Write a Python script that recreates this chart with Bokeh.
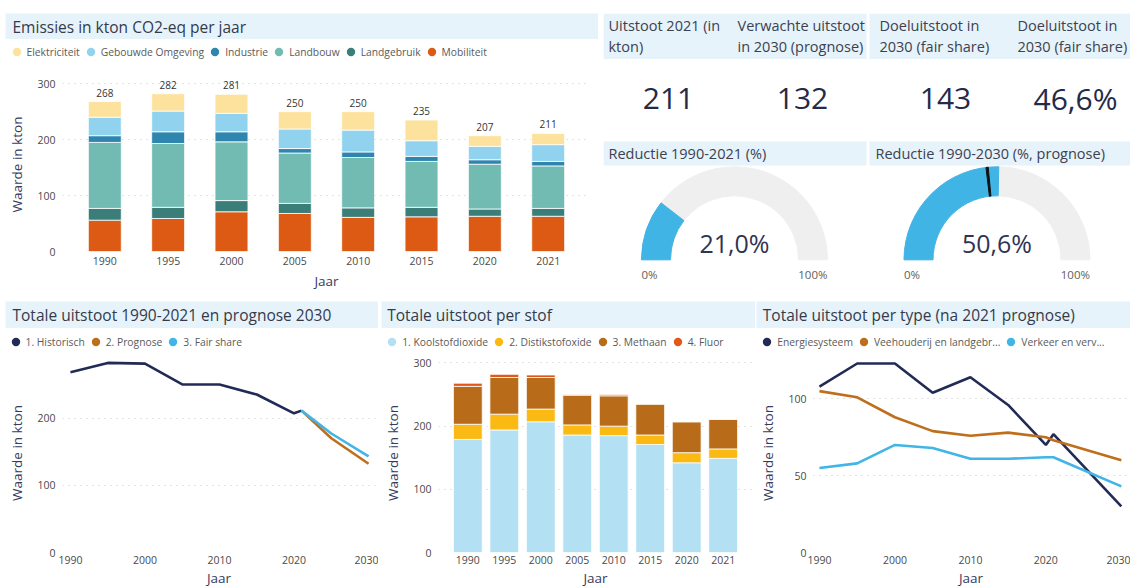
import math
from bokeh.plotting import figure
from bokeh.layouts import column, row
from bokeh.models import (Range1d, FactorRange, FixedTicker, Legend, LegendItem,
                          Spacer, ColumnDataSource)
from bokeh.core.properties import value
from bokeh.embed import file_html
from bokeh.resources import INLINE

FONT = "Open Sans"
BAND = "#E6F3FA"
TITLE_C = "#343A4A"
AXIS_TITLE_C = "#363C5E"
TICK_C = "#4A4A4A"
LEG_C = "#5A5A5A"
GRID_C = "#C6C6C6"

# ---------------- data ----------------
years = ["1990", "1995", "2000", "2005", "2010", "2015", "2020", "2021"]

# Emissies per sector (kton CO2-eq)
elektriciteit     = [28, 31, 34, 31, 33, 37, 19, 20]
gebouwde_omgeving = [33, 37, 33, 35, 39, 28, 24, 30]
industrie         = [12, 21, 18, 8, 10, 9, 8, 8]
landbouw          = [118, 114, 105, 90, 90, 82, 80, 76]
landgebruik       = [21, 20, 20, 18, 17, 17, 13, 14]
mobiliteit        = [56, 59, 71, 68, 61, 62, 63, 63]
sector_names = ["Elektriciteit", "Gebouwde Omgeving", "Industrie", "Landbouw",
                "Landgebruik", "Mobiliteit"]
sector_keys = ["elek", "geb", "ind", "landb", "landg", "mob"]
sector_colors = ["#FDE29D", "#91D3EF", "#2E86AF", "#71BBB3", "#3B7D78", "#DC5A13"]

# Totale uitstoot per stof
koolstofdioxide  = [179, 194, 207, 186, 185, 171, 142, 149]
distikstofoxide  = [24, 25, 20, 16, 15, 15, 16, 15]
methaan          = [60, 58, 50, 47, 48, 49, 49, 47]
fluor            = [5, 5, 4, 1, 2, 0, 0, 0]
stof_names = ["1. Koolstofdioxide", "2. Distikstofoxide", "3. Methaan", "4. Fluor"]
stof_keys = ["co2", "n2o", "ch4", "f"]
stof_colors = ["#B3E1F3", "#FBB913", "#B86C19", "#E2571A"]

# Totale uitstoot 1990-2021 en prognose 2030
hist_years = [1990, 1995, 2000, 2005, 2010, 2015, 2020, 2021]
hist_vals  = [268, 282, 281, 250, 250, 235, 207, 211]
prog_years = [2021, 2025, 2030]
prog_vals  = [211, 170, 132]
fair_years = [2021, 2025, 2030]
fair_vals  = [211, 177, 143]
total_names = ["1. Historisch", "2. Prognose", "3. Fair share"]
NAVY, ORANGE, LBLUE = "#222B56", "#BF6E1B", "#41B5E6"

# Totale uitstoot per type
type_years  = [1990, 1995, 2000, 2005, 2010, 2015, 2020, 2021, 2030]
energie     = [108, 123, 123, 104, 114, 96, 70, 77, 30]
veehouderij = [105, 101, 88, 79, 76, 78, 75, 73, 60]
verkeer     = [55, 58, 70, 68, 61, 61, 62, 62, 43]
type_names = ["Energiesysteem", "Veehouderij en landgebr...", "Verkeer en verv..."]

# KPI's
uitstoot_2021 = 211
verwacht_2030 = 132
doel_2030 = 143
doel_pct = 46.6
reductie_2021 = 21.0
reductie_2030 = 50.6


def pct(v):
    return f"{v:.1f}".replace(".", ",") + "%"


# ---------------- helpers ----------------
def blank(width, height, xr, yr, bg="white"):
    p = figure(width=width, height=height, x_range=xr, y_range=yr,
               x_axis_type=None, y_axis_type=None, toolbar_location=None,
               output_backend="svg", min_border=0, outline_line_color=None,
               background_fill_color=bg, border_fill_color=bg, frame_align=False)
    p.grid.visible = False
    return p


def band(width, height, text, tx):
    p = blank(width, height, Range1d(0, width), Range1d(0, height), BAND)
    p.text(x=[tx], y=[height / 2], text=[text], text_align="left",
           text_baseline="middle", text_font=value(FONT), text_font_size="15.5px",
           text_color=TITLE_C)
    return p


def legend_strip(width, height, labels, colors, series, lx, ly):
    """series: list of (xs, ys) of the plotted data; markers drawn at size 0,
    only the legend keys are visible."""
    p = blank(width, height, Range1d(0, 1), Range1d(0, 1))
    items = []
    for lab, col, (xs, ys) in zip(labels, colors, series):
        r = p.scatter(xs, ys, marker="circle", size=0, fill_color=col, line_color=None)
        items.append(LegendItem(label=value(lab), renderers=[r]))
    leg = Legend(items=items, orientation="horizontal", location=(lx, ly),
                 margin=0, padding=0, spacing=0, glyph_width=21, glyph_height=25,
                 label_standoff=-3, label_height=14, label_text_font=FONT,
                 label_text_font_size="10.3px", label_text_color=LEG_C,
                 background_fill_alpha=0, border_line_alpha=0)
    p.add_layout(leg)
    return p


def style(p, yticks, xticks=None, xl_standoff=3, xa_standoff=2):
    p.yaxis.ticker = FixedTicker(ticks=yticks)
    if xticks is not None:
        p.xaxis.ticker = FixedTicker(ticks=xticks)
    for ax in p.axis:
        ax.axis_line_color = None
        ax.major_tick_line_color = None
        ax.minor_tick_line_color = None
        ax.major_tick_out = 0
        ax.major_tick_in = 0
        ax.minor_tick_out = 0
        ax.minor_tick_in = 0
        ax.major_label_text_font = FONT
        ax.major_label_text_font_size = "10.5px"
        ax.major_label_text_color = TICK_C
        ax.axis_label_text_font = FONT
        ax.axis_label_text_font_size = "13.5px"
        ax.axis_label_text_font_style = "normal"
        ax.axis_label_text_color = AXIS_TITLE_C
    p.xaxis.axis_label = "Jaar"
    p.yaxis.axis_label = "Waarde in kton"
    p.xaxis.major_label_standoff = xl_standoff
    p.xaxis.axis_label_standoff = xa_standoff
    p.yaxis.major_label_standoff = 7
    p.yaxis.axis_label_standoff = 8
    p.xgrid.grid_line_color = None
    p.ygrid.grid_line_color = GRID_C
    p.ygrid.grid_line_dash = "1 5"
    p.ygrid.grid_line_width = 1.2


def chart(width, height, xr, yr, L, R, T, B):
    return figure(width=width, height=height, x_range=xr, y_range=yr,
                  toolbar_location=None, output_backend="svg",
                  min_border_left=L, min_border_right=R, min_border_top=T,
                  min_border_bottom=B, outline_line_color=None, frame_align=False)


year_nums = [int(y) for y in years]

# ---------------- top-left: stacked sectors ----------------
A_W = 593
srcA = ColumnDataSource(dict(year=years, elek=elektriciteit, geb=gebouwde_omgeving,
                             ind=industrie, landb=landbouw, landg=landgebruik,
                             mob=mobiliteit))
pA = chart(A_W, 229, FactorRange(factors=years, range_padding=0.042), Range1d(0, 311),
           55, 8, 13, 42)
pA.vbar_stack(sector_keys[::-1], x="year", width=0.52, color=sector_colors[::-1],
              line_color="white", line_width=0.8, source=srcA)
totalsA = [sum(v) for v in zip(elektriciteit, gebouwde_omgeving, industrie,
                               landbouw, landgebruik, mobiliteit)]
pA.text(x=years, y=totalsA, text=[str(t) for t in totalsA], text_align="center",
        text_baseline="bottom", y_offset=-5, text_font=value(FONT),
        text_font_size="10px", text_color="#333333")
style(pA, [0, 100, 200, 300], xl_standoff=5, xa_standoff=4)
sector_series = [(year_nums, v) for v in [elektriciteit, gebouwde_omgeving, industrie,
                                          landbouw, landgebruik, mobiliteit]]
panelA = column(band(A_W, 26, "Emissies in kton CO2-eq per jaar", 7),
                legend_strip(A_W, 25, sector_names, sector_colors, sector_series, 0.5, 0),
                pA)

# ---------------- top-right: KPI cards & gauges ----------------
def Y(r):
    return 292 - r

pK = blank(527, 279, Range1d(603, 1130), Range1d(0, 279))
pK.quad(left=[603, 869, 603, 869], right=[866, 1130, 866, 1130],
        top=[Y(13), Y(13), Y(141), Y(141)], bottom=[Y(58.5), Y(58.5), Y(165), Y(165)],
        fill_color=BAND, line_color=None)

hdr_x = [608, 608, 737, 737, 879, 879, 1017, 1017]
hdr_y = [Y(25), Y(46)] * 4
hdr_t = ["Uitstoot 2021 (in", "kton)", "Verwachte uitstoot", "in 2030 (prognose)",
         "Doeluitstoot in", "2030 (fair share)", "Doeluitstoot in", "2030 (fair share)"]
pK.text(x=hdr_x, y=hdr_y, text=hdr_t, text_align="left", text_baseline="middle",
        text_font=value(FONT), text_font_size="14.5px", text_color="#3C4150")

kpi_text = [str(uitstoot_2021), str(verwacht_2030), str(doel_2030), pct(doel_pct)]
pK.text(x=[668, 802, 945, 1075], y=[Y(98)] * 4, text=kpi_text, text_align="center",
        text_baseline="middle", text_font=value(FONT), text_font_size="30px",
        text_color="#252A48")

pK.text(x=[608, 875], y=[Y(153)] * 2,
        text=["Reductie 1990-2021 (%)", "Reductie 1990-2030 (%, prognose)"],
        text_align="left", text_baseline="middle", text_font=value(FONT),
        text_font_size="14.5px", text_color="#3C4150")

gx = [734, 996.5]
gy = [Y(259.3)] * 2
R_OUT, R_IN = 93, 64
gauge_vals = [reductie_2021, reductie_2030]
pK.annular_wedge(x=gx, y=gy, inner_radius=R_IN, outer_radius=R_OUT,
                 start_angle=0, end_angle=math.pi, color="#EFEFEF")
pK.annular_wedge(x=gx, y=gy, inner_radius=R_IN, outer_radius=R_OUT,
                 start_angle=[math.pi * (1 - v / 100) for v in gauge_vals],
                 end_angle=math.pi, color="#41B4E6")
tgt = math.pi * (1 - doel_pct / 100)
pK.annular_wedge(x=[gx[1]], y=[gy[1]], inner_radius=R_IN, outer_radius=R_OUT,
                 start_angle=tgt - 0.012, end_angle=tgt + 0.012, color="#111111")
pK.text(x=gx, y=[Y(242.7)] * 2, text=[pct(v) for v in gauge_vals],
        text_align="center", text_baseline="middle", text_font=value(FONT),
        text_font_size="25px", text_color="#2F3452")
pK.text(x=[c - R_OUT for c in gx], y=[Y(274)] * 2, text=["0%", "0%"],
        text_align="left", text_baseline="middle", text_font=value(FONT),
        text_font_size="11.5px", text_color="#605E5C")
pK.text(x=[c + R_OUT for c in gx], y=[Y(274)] * 2, text=["100%", "100%"],
        text_align="right", text_baseline="middle", text_font=value(FONT),
        text_font_size="11.5px", text_color="#605E5C")

top_row = row(Spacer(width=5, height=279), panelA, Spacer(width=5, height=279), pK)

# ---------------- bottom row ----------------
B_H, B_T, B_B = 236, 0, 37

# bottom-left: totals line
p1 = chart(373, B_H, Range1d(1988.93, 2030.93), Range1d(0, 296), 55, 3, B_T, B_B)
p1.line(hist_years, hist_vals, line_width=2.6, color=NAVY)
p1.line(prog_years, prog_vals, line_width=2.6, color=ORANGE)
p1.line(fair_years, fair_vals, line_width=2.6, color=LBLUE)
style(p1, [0, 100, 200], [1990, 2000, 2010, 2020, 2030])
series1 = [(hist_years, hist_vals), (prog_years, prog_vals), (fair_years, fair_vals)]
panel1 = column(band(373, 27, "Totale uitstoot 1990-2021 en prognose 2030", 7),
                legend_strip(373, 25, total_names, [NAVY, ORANGE, LBLUE], series1, -0.5, -1),
                p1)

# bottom-middle: per stof
src2 = ColumnDataSource(dict(year=years, co2=koolstofdioxide, n2o=distikstofoxide,
                             ch4=methaan, f=fluor))
p2 = chart(374, B_H, FactorRange(factors=years, range_padding=0.076), Range1d(0, 315),
           55, 3, B_T, B_B)
p2.vbar_stack(stof_keys, x="year", width=0.79, color=stof_colors,
              line_color="white", line_width=0.8, source=src2)
style(p2, [0, 100, 200, 300])
series2 = [(year_nums, v) for v in [koolstofdioxide, distikstofoxide, methaan, fluor]]
panel2 = column(band(374, 27, "Totale uitstoot per stof", 5.7),
                legend_strip(374, 25, stof_names, stof_colors, series2, 0.2, -1),
                p2)

# bottom-right: per type
p3 = chart(374, B_H, Range1d(1989.21, 2030.95), Range1d(0, 129.5), 56, 2, B_T, B_B)
p3.line(type_years, energie, line_width=2.6, color=NAVY)
p3.line(type_years, veehouderij, line_width=2.6, color=ORANGE)
p3.line(type_years, verkeer, line_width=2.6, color=LBLUE)
style(p3, [0, 50, 100], [1990, 2000, 2010, 2020, 2030])
series3 = [(type_years, v) for v in [energie, veehouderij, verkeer]]
panel3 = column(band(374, 27, "Totale uitstoot per type (na 2021 prognose)", 6.3),
                legend_strip(374, 25, type_names, [NAVY, ORANGE, LBLUE], series3, 0.2, -1),
                p3)

bottom_row = row(Spacer(width=5, height=288), panel1, Spacer(width=3, height=288), panel2,
                 Spacer(width=1, height=288), panel3)

layout = column(Spacer(width=1130, height=13), top_row, Spacer(width=1130, height=8),
                bottom_row)

open("out.html", "w").write(file_html(layout, INLINE, title="Emissies"))
